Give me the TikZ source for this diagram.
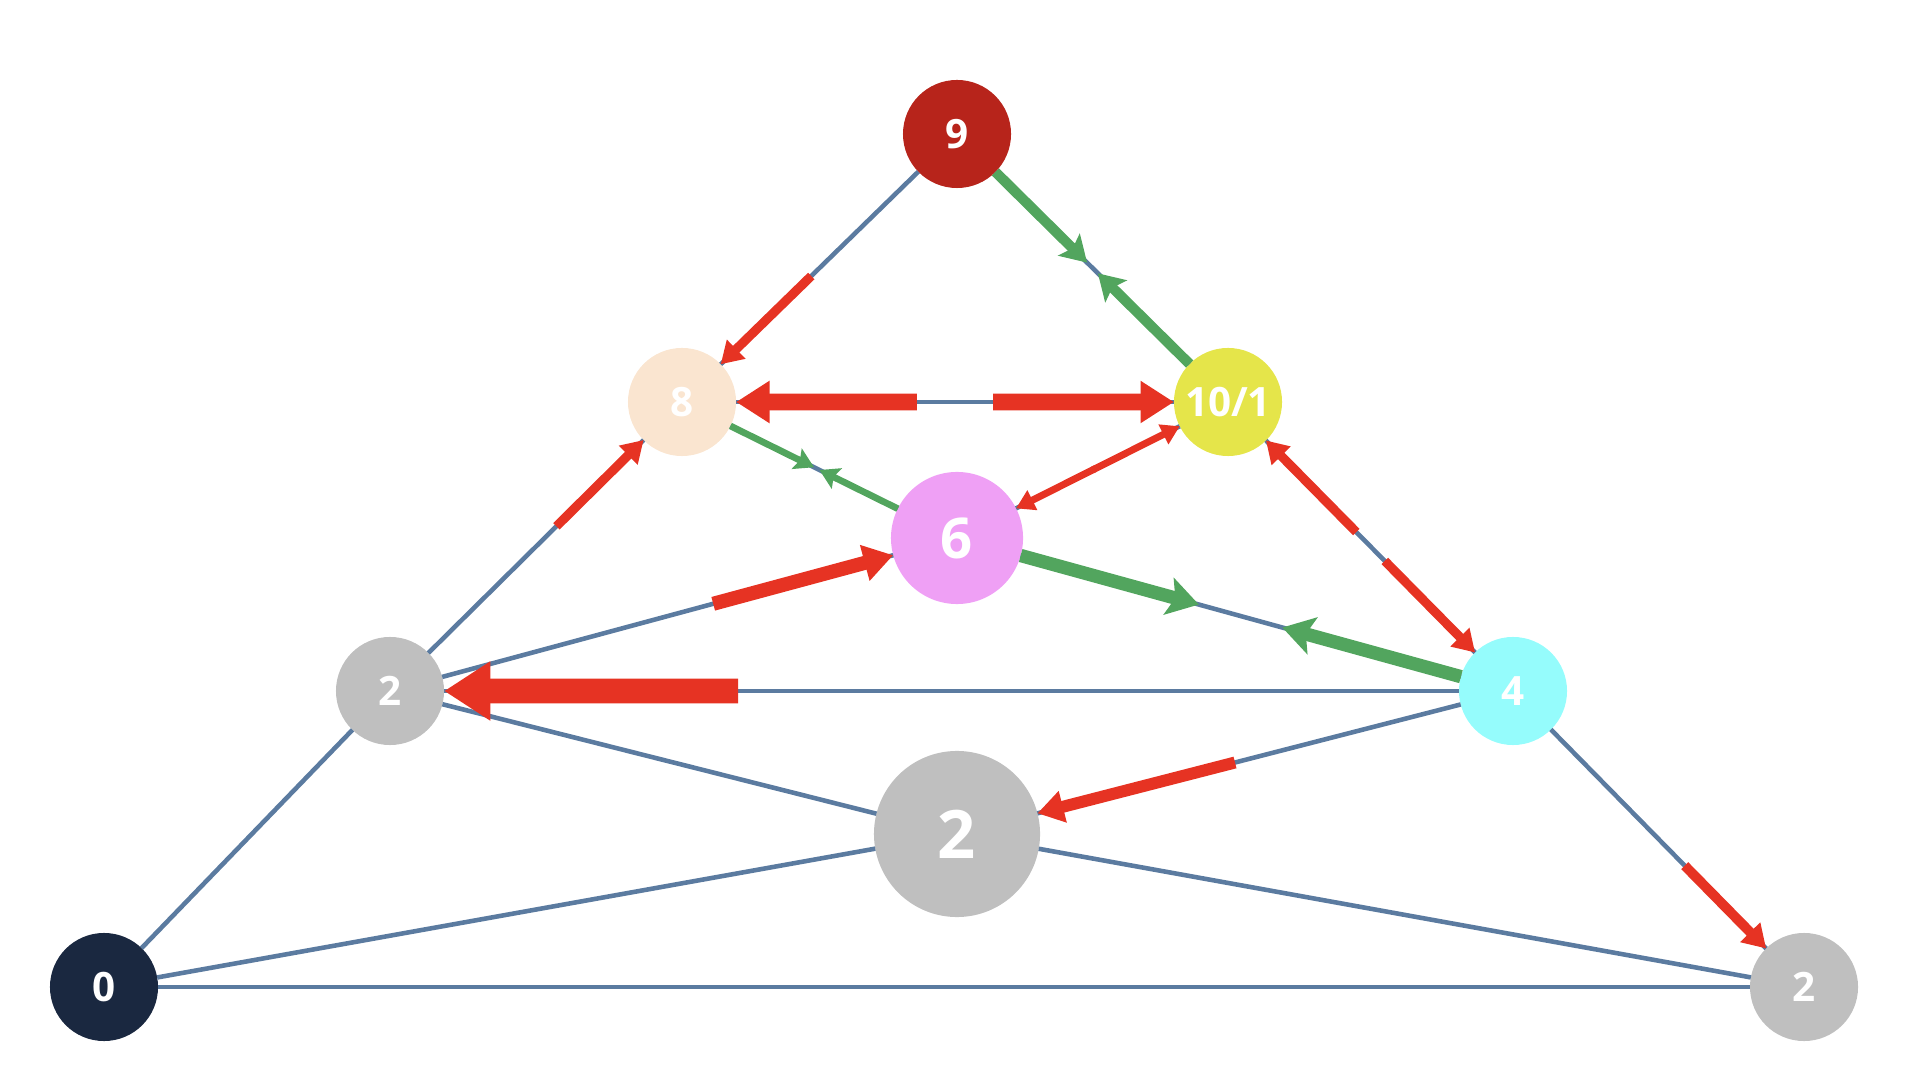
\documentclass[tikz,border=0pt]{standalone}
\usepackage{fontspec}
\setmainfont{Open Sans}
\usepackage{xcolor}
\usepackage{tikz}
\usetikzlibrary{arrows.meta, calc}
\definecolor{edgeblue}{HTML}{5B7BA0}
\definecolor{flowred}{HTML}{E63323}
\definecolor{flowgreen}{HTML}{52A55E}
\definecolor{nodegray}{HTML}{BFBFBF}

\begin{document}
\begin{tikzpicture}[x=0.01cm,y=-0.01cm,inner sep=0pt,outer sep=0pt,
  vert/.style={circle,minimum size=1.08cm,text=white,font=\bfseries\fontsize{11.5}{13}\selectfont},
  base/.style={draw=edgeblue,line width=1.3pt},
  redflow/.style={draw=flowred,-{Triangle[length=2pt 1.6,width=2pt 2]}},
  grnflow/.style={draw=flowgreen,-{Stealth[length=2pt 1.8,width=2pt 2.3,inset=0pt 0.5]}}]
\useasboundingbox (0,0) rectangle (1910,1086);
\node[vert,fill={rgb,255:red,183;green,36;blue,27}] (v9) at (957,134) {9};
\node[vert,fill={rgb,255:red,250;green,229;blue,208}] (v8) at (682,402) {8};
\node[vert,fill={rgb,255:red,229;green,229;blue,74}] (v10) at (1228,402) {10/1};
\node[vert,minimum size=1.32cm,fill={rgb,255:red,239;green,160;blue,245},font=\bfseries\fontsize{16}{18}\selectfont] (v6) at (957,538) {6};
\node[vert,fill=nodegray] (v2a) at (390,691) {2};
\node[vert,fill={rgb,255:red,149;green,252;blue,252}] (v4) at (1513,691) {4};
\node[vert,minimum size=1.66cm,fill=nodegray,font=\bfseries\fontsize{19}{21}\selectfont] (v2b) at (957,834) {2};
\node[vert,fill={rgb,255:red,26;green,40;blue,64}] (v0) at (104,987) {0};
\node[vert,fill=nodegray] (v2c) at (1804,987) {2};
\foreach \a/\b in {v9/v8,v9/v10,v8/v10,v8/v6,v10/v6,v8/v2a,v10/v4,v2a/v6,v6/v4,v2a/v4,v2a/v2b,v4/v2b,v0/v2a,v4/v2c,v0/v2b,v2b/v2c,v0/v2c}
  \draw[base] (\a) -- (\b);
\foreach \a/\b/\t/\w in {v9/v8/0.53/2.6pt,v2a/v8/0.57/2.6pt,v2a/v6/0.57/4pt,v4/v2a/0.69/7pt,v4/v2b/0.5/3.4pt,v4/v2c/0.59/2.8pt,v8/v10/0.57/4.7pt,v10/v8/0.57/4.7pt,v10/v6/0.49/2pt,v6/v10/0.5/2pt,v10/v4/0.55/2.6pt,v4/v10/0.55/2.6pt}
  \draw[redflow,line width=\w] ($(\a)!\t!(\b)$) -- (\b);
\foreach \a/\b/\t/\w in {v9/v10/0.48/2.9pt,v10/v9/0.48/2.9pt,v8/v6/0.48/1.9pt,v6/v8/0.5/1.9pt,v6/v4/0.435/3.8pt,v4/v6/0.415/3.8pt}
  \draw[grnflow,line width=\w] (\a) -- ($(\a)!\t!(\b)$);
\end{tikzpicture}
\end{document}
